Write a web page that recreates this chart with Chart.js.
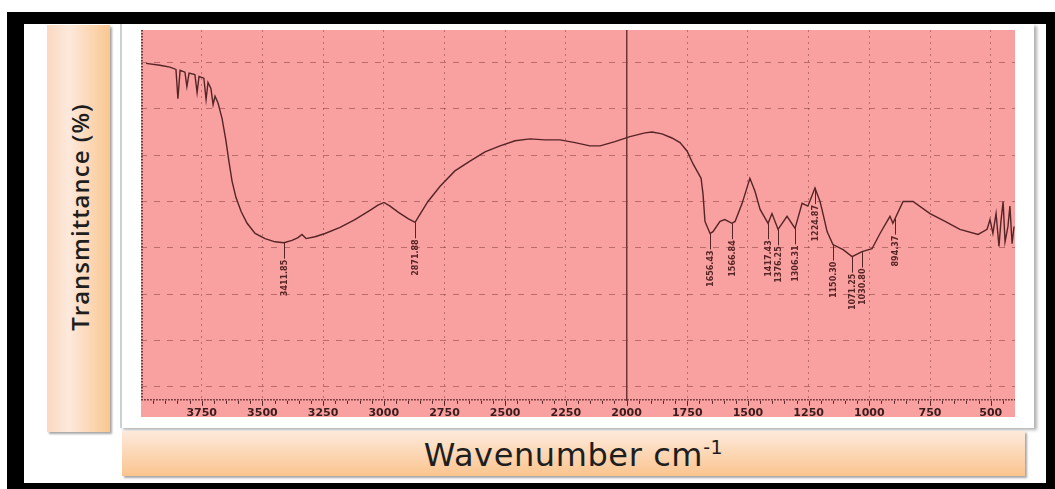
<!DOCTYPE html>
<html>
<head>
<meta charset="utf-8">
<script src="https://cdn.jsdelivr.net/npm/chart.js@4.4.0/dist/chart.umd.min.js"></script>
<style>
body{margin:0;width:1055px;height:489px;background:#fff;position:relative;overflow:hidden;font-family:"Open Sans",sans-serif}
#frame{position:absolute;left:7px;top:12px;width:1048px;height:477px;background:#000}
#inner{position:absolute;left:24px;top:24px;width:1022px;height:459px;background:#fff}
#ylab{position:absolute;left:47px;top:25px;width:63px;height:407px;background:linear-gradient(to right,#fbd8c0,#fde9dc 35%,#fbc690);box-shadow:2px 2px 2px rgba(0,0,0,.35)}
#ylab span{position:absolute;left:32px;top:192px;transform:translate(-50%,-50%) rotate(-90deg);white-space:nowrap;font-size:24px;font-weight:600;letter-spacing:1px;color:#1e1e1e}
#panel{position:absolute;left:120px;top:24px;width:912px;height:404px;background:#fff;border-left:2px solid #c8d0d8;box-shadow:3px 2px 3px rgba(0,0,0,.3)}
#plotbg{position:absolute;left:141px;top:30px;width:874px;height:387px;background:#f9a0a0}
#plot{position:absolute;left:141px;top:30px;width:874px;height:396px}
#xlab{position:absolute;left:122px;top:431px;width:903px;height:45px;background:linear-gradient(to bottom,#fdeadc,#fbc48e);box-shadow:2px 2px 2px rgba(0,0,0,.35);text-align:center}
#xlab span{display:inline-block;margin-top:5px;font-family:"DejaVu Sans",sans-serif;font-size:32px;line-height:38px;letter-spacing:0.6px;color:#1e1e1e}
</style>
</head>
<body>
<div id="frame"></div>
<div id="inner"></div>
<div id="ylab"><span>Transmittance (%)</span></div>
<div id="panel"></div>
<div id="plotbg"></div>
<div id="plot"><canvas id="irChart"></canvas></div>
<div id="xlab"><span>Wavenumber cm<sup style="font-size:19px;line-height:0">-1</sup></span></div>
<script>
// spectrum (wavenumber in cm-1, transmittance in arbitrary %)
const wavenumber = [3979, 3922, 3881, 3856, 3848, 3839, 3819, 3811, 3802, 3778, 3769, 3761, 3741, 3732, 3724, 3712, 3703, 3695, 3683,
    3666, 3650, 3638, 3625, 3609, 3588, 3563, 3530, 3489, 3448, 3411, 3378, 3353, 3337, 3320, 3283, 3242, 3180, 3119, 3057,
    3024, 2999, 2974, 2941, 2900, 2871, 2851, 2818, 2768, 2707, 2645, 2583, 2521, 2459, 2398, 2336, 2274, 2212, 2151, 2109,
    2048, 1986, 1924, 1895, 1854, 1813, 1780, 1751, 1726, 1710, 1693, 1685, 1677, 1656, 1644, 1615, 1595, 1566, 1553, 1524,
    1492, 1471, 1450, 1417, 1401, 1376, 1339, 1306, 1277, 1253, 1224, 1203, 1191, 1174, 1150, 1108, 1071, 1030, 989, 956,
    915, 903, 861, 820, 750, 688, 627, 552, 515, 503, 491, 478, 466, 458, 449, 441, 429, 421, 412, 404];
const transmittance = [79.8, 79.4, 79.0, 78.5, 72.2, 78.3, 77.9, 74.8, 77.7, 77.4, 73.5, 77.0, 76.6, 72.0, 75.7, 74.4, 70.9, 72.7, 71.3,
    67.9, 63.1, 58.7, 54.4, 50.9, 47.9, 45.3, 43.1, 42.0, 41.3, 41.1, 41.6, 42.2, 42.9, 42.0, 42.4, 43.1, 44.4, 46.1, 48.1,
    49.2, 49.8, 49.0, 47.7, 46.3, 45.5, 47.2, 50.0, 53.3, 56.6, 58.7, 60.7, 62.0, 63.1, 63.5, 63.3, 63.3, 62.7, 62.0, 62.0,
    62.9, 64.0, 64.8, 65.0, 64.6, 63.7, 62.7, 60.9, 58.1, 56.6, 55.0, 51.6, 45.7, 43.1, 43.5, 45.7, 46.1, 45.3, 45.7, 49.6,
    55.0, 52.2, 48.3, 45.3, 47.4, 44.0, 46.8, 44.2, 49.6, 49.0, 52.9, 50.0, 47.4, 43.5, 40.7, 39.6, 38.1, 39.2, 39.8, 43.1,
    46.8, 45.3, 50.0, 50.0, 47.4, 45.7, 44.0, 42.9, 44.0, 46.1, 43.1, 47.4, 40.3, 45.7, 50.0, 41.3, 44.6, 49.0, 40.9, 44.6];

const xTicks = [3750, 3500, 3250, 3000, 2750, 2500, 2250, 2000, 1750, 1500, 1250, 1000, 750, 500];
const yTicks = [10, 20, 30, 40, 50, 60, 70, 80];

const peakWn = [3411, 2871, 1656, 1566, 1417, 1376, 1306, 1224, 1150, 1071, 1030, 894];
const peakText = ['3411.85', '2871.88', '1656.43', '1566.84', '1417.43', '1376.25', '1306.31', '1224.87', '1150.30', '1071.25', '1030.80', '894.37'];

const lineColor = '#552424';

// value of the trace at a given wavenumber, for anchoring the peak labels
function traceAt(w) {
    for (let i = 0; i < wavenumber.length - 1; i++) {
        const a = wavenumber[i], b = wavenumber[i + 1];
        if ((w <= a && w >= b)) {
            const t = (a - w) / (a - b);
            return transmittance[i] + t * (transmittance[i + 1] - transmittance[i]);
        }
    }
    return transmittance[transmittance.length - 1];
}

const extras = {
    id: 'extras',
    afterDatasetsDraw(chart) {
        const {ctx, chartArea: a, scales: {x, y}} = chart;
        ctx.save();
        // dotted left and bottom frame
        ctx.strokeStyle = lineColor;
        ctx.lineWidth = 1.6;
        ctx.setLineDash([1.5, 1.5]);
        ctx.beginPath();
        ctx.moveTo(a.left + 1, a.top);
        ctx.lineTo(a.left + 1, a.bottom - 1);
        ctx.lineTo(a.right, a.bottom - 1);
        ctx.stroke();
        // small ticks under the bottom line
        ctx.setLineDash([]);
        ctx.lineWidth = 1;
        ctx.beginPath();
        for (let w = 450; w < 4000; w += 50) {
            const px = Math.round(x.getPixelForValue(w)) + 0.5;
            ctx.moveTo(px, a.bottom);
            ctx.lineTo(px, a.bottom + (w % 250 === 0 ? 5 : 3));
        }
        ctx.stroke();
        // peak labels
        ctx.fillStyle = lineColor;
        ctx.font = 'bold 8px "DejaVu Sans"';
        ctx.textAlign = 'right';
        ctx.textBaseline = 'middle';
        peakWn.forEach((w, i) => {
            const px = Math.round(x.getPixelForValue(w)) + 0.5;
            const py = y.getPixelForValue(traceAt(w));
            ctx.beginPath();
            ctx.moveTo(px, py);
            ctx.lineTo(px, py + 16);
            ctx.stroke();
            ctx.save();
            ctx.translate(px, py + 17);
            ctx.rotate(-Math.PI / 2);
            ctx.fillText(peakText[i], 0, 0);
            ctx.restore();
        });
        ctx.restore();
    }
};

const ctxIr = document.getElementById('irChart').getContext('2d');
const irChart = new Chart(ctxIr, {
    type: 'line',
    data: {
        datasets: [{
            label: 'IR',
            data: wavenumber.map((w, i) => ({x: w, y: transmittance[i]})),
            borderColor: lineColor,
            borderWidth: 1.4,
            pointRadius: 0,
            tension: 0
        }]
    },
    options: {
        responsive: true,
        maintainAspectRatio: false,
        animation: false,
        layout: {padding: 0},
        plugins: {legend: {display: false}, tooltip: {enabled: false}},
        scales: {
            x: {
                type: 'linear',
                reverse: true,
                min: 400,
                max: 4000,
                afterBuildTicks: s => { s.ticks = xTicks.map(v => ({value: v})); },
                ticks: {
                    color: '#3a1c1c',
                    font: {family: 'DejaVu Sans', weight: 'bold', size: 11},
                    padding: 6,
                    maxRotation: 0,
                    autoSkip: false,
                    callback: v => String(v)
                },
                grid: {
                    drawTicks: false,
                    color: c => c.tick && c.tick.value === 2000 ? 'rgba(85,35,35,0.85)' : 'rgba(130,55,55,0.5)',
                    lineWidth: c => c.tick && c.tick.value === 2000 ? 1.5 : 1
                },
                border: {display: false, dash: c => c.tick && c.tick.value === 2000 ? [] : [2, 4]}
            },
            y: {
                min: 7,
                max: 87,
                afterBuildTicks: s => { s.ticks = yTicks.map(v => ({value: v})); },
                ticks: {display: false},
                grid: {drawTicks: false, color: 'rgba(130,55,55,0.5)'},
                border: {display: false, dash: [6, 7]}
            }
        }
    },
    plugins: [extras]
});
</script>
</body>
</html>
